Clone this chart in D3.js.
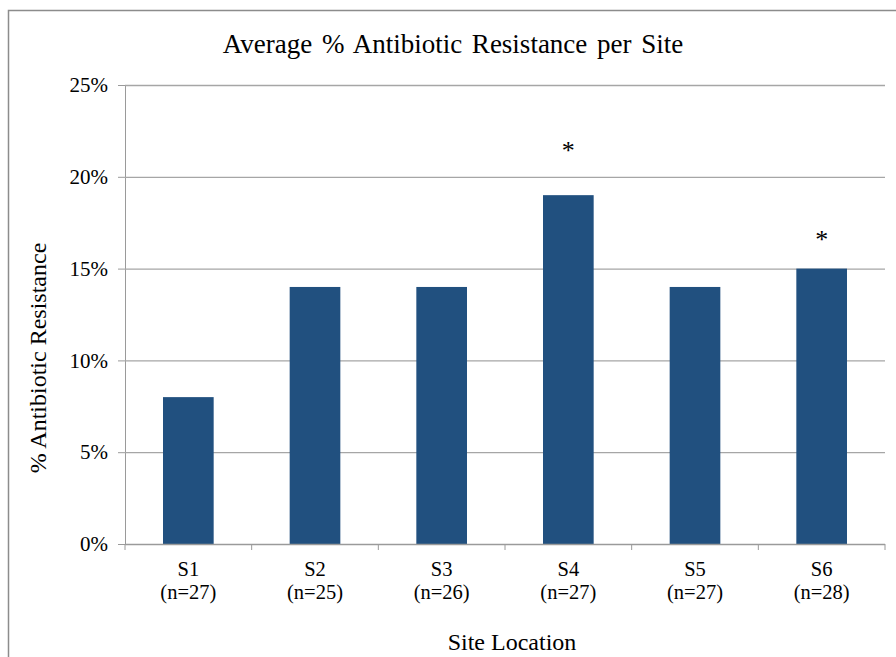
<!DOCTYPE html>
<html><head><meta charset="utf-8">
<script src="https://cdn.jsdelivr.net/npm/d3@7"></script>
<style>body{margin:0;background:#fff}svg{display:block}</style>
</head><body>
<svg id="c" width="896" height="657"></svg>
<script>
const sites = ["S1","S2","S3","S4","S5","S6"];
const sampleSizes = ["(n=27)","(n=25)","(n=26)","(n=27)","(n=27)","(n=28)"];
const resistance = [0.08, 0.14, 0.14, 0.19, 0.14, 0.15];
const significance = ["", "", "", "*", "", "*"];
const markerLevel = [null, null, null, 0.216, null, 0.168];
const yTicks = [0, 0.05, 0.10, 0.15, 0.20, 0.25];

const svg = d3.select("#c");
const font = "'Liberation Serif','Times New Roman',serif";
const m = {l:125, r:885, t:85, b:544};

// chart border
svg.append("rect").attr("x",8.5).attr("y",10.5).attr("width",900).attr("height",700)
  .attr("fill","none").attr("stroke","#8c8c8c").attr("stroke-width",1.5);

const x = d3.scaleBand().domain(sites).range([m.l,m.r]).paddingInner(0.6).paddingOuter(0.3);
const y = d3.scaleLinear().domain([0,0.25]).range([m.b,m.t]);

// gridlines + y axis
const ya = d3.axisLeft(y).tickValues(yTicks).tickFormat(d3.format(".0%")).tickSize(7).tickPadding(10);
const yg = svg.append("g").attr("transform",`translate(${m.l},0)`).call(ya);
yg.select(".domain").attr("stroke","#9a9a9a");
yg.selectAll(".tick line").attr("stroke","#9a9a9a");
yg.selectAll("text").attr("font-family",font).attr("font-size",21).attr("fill","#000");

svg.append("g").selectAll("line").data(yTicks.filter(d=>d>0)).join("line")
  .attr("x1",m.l).attr("x2",m.r).attr("y1",d=>y(d)+0.5).attr("y2",d=>y(d)+0.5)
  .attr("stroke","#a6a6a6").attr("stroke-width",1.3);

// bars
svg.append("g").selectAll("rect").data(sites).join("rect")
  .attr("x",(d)=>x(d)).attr("width",x.bandwidth())
  .attr("y",(d,i)=>y(resistance[i])).attr("height",(d,i)=>y(0)-y(resistance[i]))
  .attr("fill","#21507f");

// x axis
const xg = svg.append("g").attr("transform",`translate(0,${m.b})`);
xg.append("line").attr("x1",m.l).attr("x2",m.r).attr("y1",0.5).attr("y2",0.5).attr("stroke","#9a9a9a").attr("stroke-width",1.3);
const step = x.step();
const bounds = d3.range(sites.length+1).map(i=>m.l + i*step);
xg.selectAll("line.t").data(bounds).join("line").attr("class","t")
  .attr("x1",d=>d).attr("x2",d=>d).attr("y1",0).attr("y2",6).attr("stroke","#9a9a9a");
xg.selectAll("text.s").data(sites).join("text").attr("class","s")
  .attr("x",d=>x(d)+x.bandwidth()/2).attr("y",32).attr("text-anchor","middle")
  .attr("font-family",font).attr("font-size",20.5).text(d=>d);
xg.selectAll("text.n").data(sites).join("text").attr("class","n")
  .attr("x",d=>x(d)+x.bandwidth()/2).attr("y",55).attr("text-anchor","middle")
  .attr("font-family",font).attr("font-size",20.5).text((d,i)=>sampleSizes[i]);

// significance markers
svg.append("g").selectAll("text").data(sites.filter((d,i)=>significance[i])).join("text")
  .attr("x",d=>x(d)+x.bandwidth()/2)
  .attr("y",d=>y(markerLevel[sites.indexOf(d)])+12)
  .attr("text-anchor","middle").attr("font-family",font).attr("font-size",26)
  .text(d=>significance[sites.indexOf(d)]);

// titles
svg.append("text").attr("x",453).attr("y",53).attr("text-anchor","middle")
  .attr("font-family",font).attr("font-size",27).attr("word-spacing",3)
  .text("Average % Antibiotic Resistance per Site");
svg.append("text").attr("x",512).attr("y",650).attr("text-anchor","middle")
  .attr("font-family",font).attr("font-size",24).text("Site Location");
svg.append("text").attr("transform","translate(46,358) rotate(-90)").attr("text-anchor","middle")
  .attr("font-family",font).attr("font-size",24).text("% Antibiotic Resistance");
</script>
</body></html>
